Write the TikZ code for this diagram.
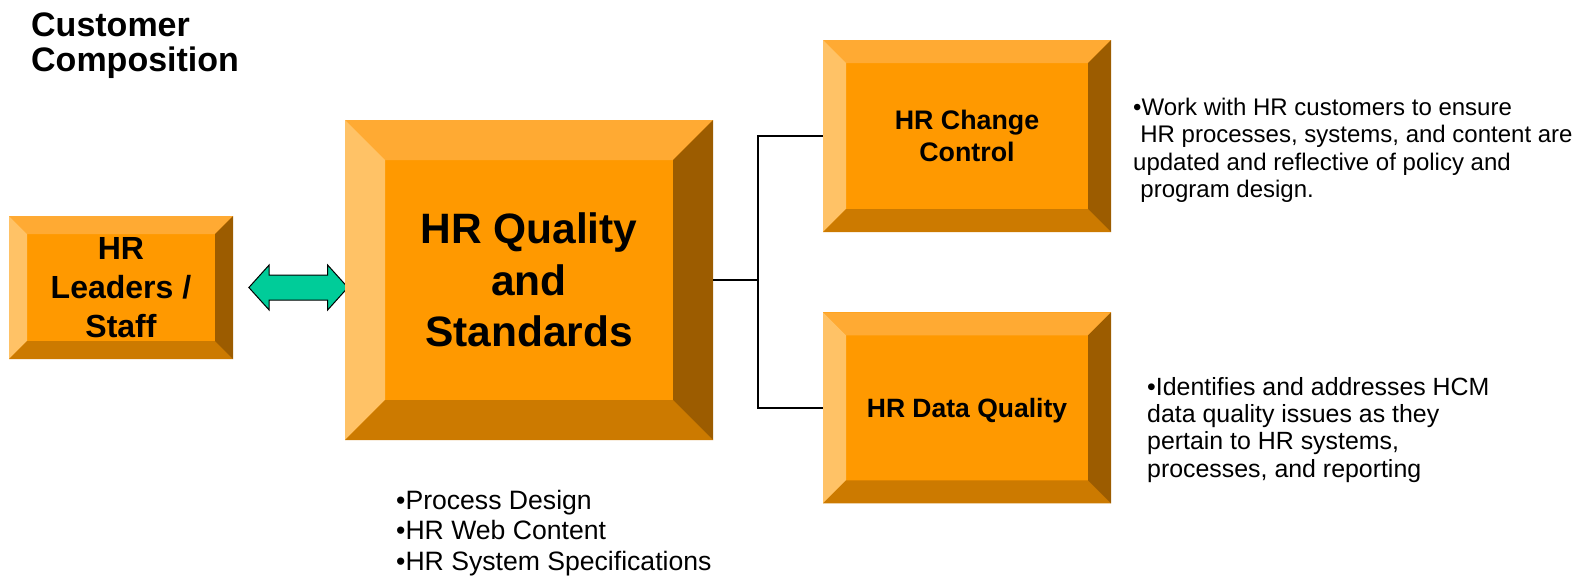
\documentclass[tikz,border=0pt]{standalone}
\usepackage{fontspec}
\setmainfont{Liberation Sans}
\usetikzlibrary{positioning,shapes.arrows}

\definecolor{hrface}{HTML}{FF9900}
\definecolor{hrtop}{HTML}{FFAA33}
\definecolor{hrleft}{HTML}{FFC266}
\definecolor{hrbottom}{HTML}{CC7A00}
\definecolor{hrright}{HTML}{9C5C00}
\definecolor{hrarrow}{HTML}{00CC99}

\tikzset{
  bevelbox/.style={rectangle, fill=hrface, inner sep=0pt, align=center,
    path picture={
      \path (path picture bounding box.north west) coordinate (pnw)
            (path picture bounding box.north east) coordinate (pne)
            (path picture bounding box.south west) coordinate (psw)
            (path picture bounding box.south east) coordinate (pse);
      \fill[hrtop] (pnw) -- (pne) -- ([xshift=-#1,yshift=-#1]pne) -- ([xshift=#1,yshift=-#1]pnw) -- cycle;
      \fill[hrleft] (pnw) -- ([xshift=#1,yshift=-#1]pnw) -- ([xshift=#1,yshift=#1]psw) -- (psw) -- cycle;
      \fill[hrbottom] (psw) -- ([xshift=#1,yshift=#1]psw) -- ([xshift=-#1,yshift=#1]pse) -- (pse) -- cycle;
      \fill[hrright] (pne) -- ([xshift=-#1,yshift=-#1]pne) -- ([xshift=-#1,yshift=#1]pse) -- (pse) -- cycle;
    }},
  twoway/.style={double arrow, draw=black, line width=1pt, fill=hrarrow,
    inner sep=12pt, double arrow head extend=10pt, double arrow tip angle=96,
    minimum height=99pt},
  note/.style={anchor=north west, inner sep=0pt, align=left},
  wire/.style={line width=1.5pt}
}

\begin{document}
\begin{tikzpicture}[x=1pt,y=-1pt]
  \useasboundingbox (0,0) rectangle (1582,581);
  \node[note, font=\fontsize{34}{35}\selectfont\bfseries] (customer) at (31,13) {Customer\\Composition};
  \node[bevelbox=18pt, minimum width=224pt, minimum height=143pt,
        font=\fontsize{32}{39}\selectfont\bfseries] (leaders) at (121,287.5) {HR\\Leaders /\\Staff};
  \node[twoway] (link) [right=15pt of leaders] {};
  \node[bevelbox=40pt, minimum width=368pt, minimum height=320pt,
        font=\fontsize{42.5}{51.5}\selectfont\bfseries] (quality) at (529,280) {HR Quality\\and\\Standards};
  \node[bevelbox=23pt, minimum width=288pt, minimum height=192pt,
        font=\fontsize{26.8}{32}\selectfont\bfseries] (change) at (967,136) {HR Change\\Control};
  \node[bevelbox=23pt, minimum width=288pt, minimum height=191pt, text depth=0pt,
        font=\fontsize{26.5}{32}\selectfont\bfseries] (data) [below=80pt of change] {HR Data Quality};
  \coordinate[left=65pt of change.west] (bus);
  \draw[wire] (quality.east) -- (quality.east -| bus);
  \draw[wire] (change.west) -- (bus) |- (data.west);
  \node[note, font=\fontsize{24}{27.3}\selectfont] (changenote) at (1133,98)
    {•Work with HR customers to ensure\\\hspace*{0.3em}HR processes, systems, and content are\\updated and reflective of policy and\\\hspace*{0.3em}program design.};
  \node[note, font=\fontsize{24.9}{27.3}\selectfont] (datanote) at (1147,377)
    {•Identifies and addresses HCM\\data quality issues as they\\pertain to HR systems,\\processes, and reporting};
  \node[note, font=\fontsize{26.6}{30.5}\selectfont] (qualitynote) at (396,490)
    {•Process Design\\•HR Web Content\\•HR System Specifications};
\end{tikzpicture}
\end{document}
